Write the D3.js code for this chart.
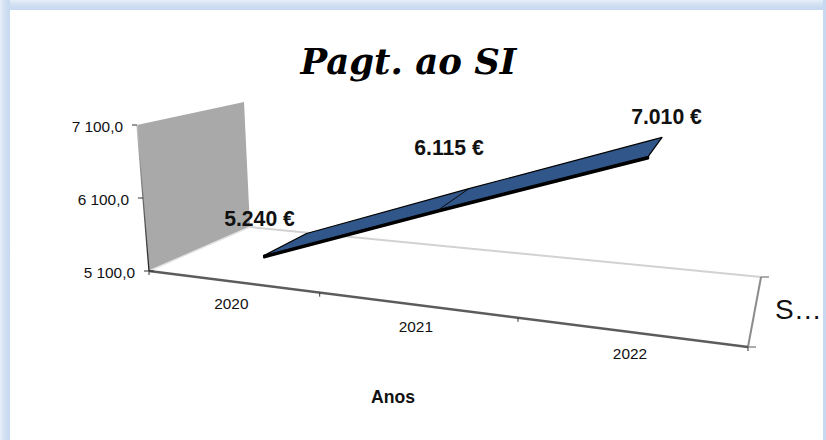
<!DOCTYPE html>
<html><head><meta charset="utf-8">
<script src="https://cdn.jsdelivr.net/npm/d3@7"></script>
<style>html,body{margin:0;padding:0;background:#fff}svg{display:block}</style>
</head><body><svg id="c" width="826" height="440"></svg>
<script>
const categories = ["2020","2021","2022"];
const values = [5240,6115,7010];
const valueLabels = ["5.240 €","6.115 €","7.010 €"];
const yTicks = [5100,6100,7100];
const yTickLabels = ["5 100,0","6 100,0","7 100,0"];
const titleText = "Pagt. ao SI";
const xTitle = "Anos";
const seriesName = "S…";

const svg = d3.select("#c");
const defs = svg.append("defs");
function grad(id,x1,y1,x2,y2,stops){
  const g=defs.append("linearGradient").attr("id",id).attr("x1",x1).attr("y1",y1).attr("x2",x2).attr("y2",y2);
  stops.forEach(([o,c])=>g.append("stop").attr("offset",o).attr("stop-color",c));
  return g;
}
grad("gl",0,0,1,0,[[0,"#e6eef8"],[0.5,"#d0dff2"],[1,"#c6d9f1"]]);
grad("gt",0,0,0,1,[[0,"#e6eef8"],[0.5,"#d0dff2"],[1,"#c6d9f1"]]);
svg.append("rect").attr("width",826).attr("height",440).attr("fill","#fff");
svg.append("rect").attr("x",0).attr("y",0).attr("width",826).attr("height",10).attr("fill","url(#gt)");
svg.append("rect").attr("x",0).attr("y",0).attr("width",10).attr("height",440).attr("fill","url(#gl)");
svg.append("rect").attr("x",823).attr("y",0).attr("width",3).attr("height",440).attr("fill","#c6d9f1");

// projection of the 3-D box on the screen
const FL=[149,271],FR=[748,347],BL=[250,227],BR=[761,277];
const upFL=[-12,-146],upBL=[-6,-125],upFR=[10,-176],upBR=[7,-148];
const lerp=(a,b,t)=>[a[0]+(b[0]-a[0])*t,a[1]+(b[1]-a[1])*t];
const xBand=d3.scaleLinear().domain([0,1,2,3]).range([0,.285,.616,1]);
const yScale=d3.scaleLinear().domain([5100,7100]).range([0,1]);
function proj(xu,depth,val){
  const t=xBand(xu);
  const f=lerp(lerp(FL,FR,t),lerp(BL,BR,t),depth);
  const u=lerp(lerp(upFL,upFR,t),lerp(upBL,upBR,t),depth);
  const w=yScale(val);
  return [f[0]+u[0]*w,f[1]+u[1]*w];
}
const line=d3.line();
const y0=yTicks[0],y1=yTicks[yTicks.length-1];
const sans="'Liberation Sans'";

// wall
svg.append("path").attr("d",line([proj(0,0,y0),proj(0,1,y0),proj(0,1,y1),proj(0,0,y1)])+"Z").attr("fill","#a9a9a9");
// floor edges
svg.append("path").attr("d",line([proj(0,0,y0),proj(0,1,y0)])).attr("stroke","#e4e4e4").attr("stroke-width",1.5).attr("fill","none");
svg.append("path").attr("d",line([proj(0,1,y0),proj(3,1,y0)])).attr("stroke","#d2d2d2").attr("stroke-width",2).attr("fill","none");
svg.append("path").attr("d",line([proj(3,0,y0),proj(3,1,y0)])).attr("stroke","#8c8c8c").attr("stroke-width",2).attr("fill","none");
svg.append("path").attr("d",line([proj(0,0,y0),proj(3,0,y0)])).attr("stroke","#5c5c5c").attr("stroke-width",2.4).attr("fill","none");
// value axis fades from dark at the floor to light at the top
const pa=proj(0,0,y0),pb=proj(0,0,y1);
grad("ga",0,0,0,1,[[0,"#c4c4c4"],[0.45,"#777"],[1,"#222"]])
  .attr("gradientUnits","userSpaceOnUse").attr("x1",pb[0]).attr("y1",pb[1]).attr("x2",pa[0]).attr("y2",pa[1]);
svg.append("path").attr("d",line([pa,pb])).attr("stroke","url(#ga)").attr("stroke-width",1.3).attr("fill","none");

// axis ticks
yTicks.forEach((v,i)=>{
  const p=proj(0,0,v);
  svg.append("line").attr("x1",p[0]-5).attr("x2",p[0]+(i?0:5)).attr("y1",p[1]).attr("y2",p[1]).attr("stroke","#333");
  svg.append("text").attr("x",p[0]-14).attr("y",p[1]+6.5).attr("text-anchor","end")
    .attr("font-family",sans).attr("font-size",15.4).attr("fill","#111").text(yTickLabels[i]);
});
[0,1,2,3].forEach(i=>{
  const p=proj(i,0,y0);
  svg.append("line").attr("x1",p[0]).attr("x2",p[0]).attr("y1",p[1]).attr("y2",p[1]+4).attr("stroke","#333");
});
[[3,0],[3,1]].forEach(([a,b])=>{
  const p=proj(a,b,y0);
  svg.append("line").attr("x1",p[0]).attr("x2",p[0]+8).attr("y1",p[1]).attr("y2",p[1]).attr("stroke","#777").attr("stroke-width",1.2);
});
categories.forEach((c,i)=>{
  const p=proj(i+.5,0,y0);
  svg.append("text").attr("x",p[0]-3).attr("y",p[1]+27).attr("text-anchor","middle")
    .attr("font-family",sans).attr("font-size",15.4).attr("fill","#111").text(c);
});

// ribbon
const dFront=.34,dBack=.82,thick=26;
const front=values.map((v,i)=>proj(i+.5,dFront,v));
const back=values.map((v,i)=>proj(i+.5,dBack,v));
const under=values.map((v,i)=>proj(i+.5,dFront,v-thick));
svg.append("path").attr("d",line(front.concat(under.slice().reverse()))+"Z").attr("fill","#000").attr("stroke","#000").attr("stroke-width",2).attr("stroke-linejoin","round");
svg.append("path").attr("d",line(front.concat(back.slice().reverse()))+"Z").attr("fill","#31578a").attr("stroke","#000").attr("stroke-width",1.2).attr("stroke-linejoin","round");
svg.append("path").attr("d",line([front[1],back[1]])).attr("stroke","#0a0a0a").attr("stroke-width",1);

// data labels
const labelPos=[[259.5,226],[449,155],[666.5,124]];
valueLabels.forEach((t,i)=>{
  svg.append("text").attr("x",labelPos[i][0]).attr("y",labelPos[i][1]).attr("text-anchor","middle")
   .attr("font-family",sans).attr("font-weight","bold").attr("font-size",21.2).attr("fill","#111").text(t);
});
svg.append("text").attr("x",408.5).attr("y",74).attr("text-anchor","middle")
  .attr("font-family","'DejaVu Serif'").attr("font-weight","bold").attr("font-style","italic").attr("font-size",35.5).attr("fill","#000").text(titleText);
svg.append("text").attr("x",393).attr("y",403).attr("text-anchor","middle")
  .attr("font-family",sans).attr("font-weight","bold").attr("font-size",17.6).attr("fill","#111").text(xTitle);
svg.append("text").attr("x",775).attr("y",319)
  .attr("font-family",sans).attr("font-size",28).attr("fill","#111").text(seriesName);
</script></body></html>
